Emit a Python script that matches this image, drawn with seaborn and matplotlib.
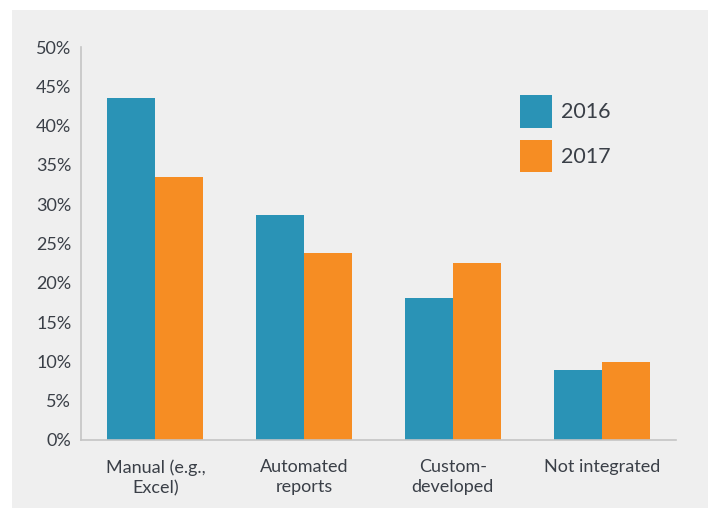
import pandas as pd
import matplotlib.pyplot as plt
from matplotlib.patches import Rectangle
import seaborn as sns

# Chart data
categories = ['Manual (e.g.,\nExcel)', 'Automated\nreports', 'Custom-\ndeveloped', 'Not integrated']
years = ['2016', '2017']
values_2016 = [43.5, 28.6, 18.1, 8.9]
values_2017 = [33.5, 23.8, 22.5, 9.9]
y_ticks = [0, 5, 10, 15, 20, 25, 30, 35, 40, 45, 50]

colors = ['#2A93B6', '#F68D23']
text_color = '#3A3F47'
panel_color = '#EFEFEF'


def main():
    df = pd.DataFrame({
        'category': categories * 2,
        'year': [years[0]] * 4 + [years[1]] * 4,
        'value': values_2016 + values_2017,
    })

    sns.set_style('white')
    plt.rcParams['font.family'] = ['Lato', 'DejaVu Sans']

    fig = plt.figure(figsize=(7.11, 5.08), dpi=100, facecolor='white')
    # light gray panel behind the chart
    fig.patches.append(Rectangle((12 / 711, 0), 696 / 711, 498 / 508,
                                 transform=fig.transFigure, facecolor=panel_color,
                                 edgecolor='none', zorder=-10))
    ax = fig.add_axes([81 / 711, 68 / 508, 595 / 711, 393 / 508])
    ax.set_facecolor(panel_color)

    sns.barplot(data=df, x='category', y='value', hue='year', palette=colors,
                width=0.645, gap=0, saturation=1, linewidth=0, ax=ax)

    ax.set_xlim(-0.5, 3.5)
    ax.set_ylim(0, 50)
    ax.set_yticks(y_ticks)
    ax.set_yticklabels([f'{t}%' for t in y_ticks], fontsize=13, color=text_color)
    ax.tick_params(axis='both', length=0)
    ax.tick_params(axis='y', pad=7)
    ax.tick_params(axis='x', pad=14)
    for lbl in ax.get_xticklabels():
        lbl.set_fontsize(13)
        lbl.set_color(text_color)
        lbl.set_linespacing(1.3)
    ax.set_xlabel('')
    ax.set_ylabel('')

    sns.despine(ax=ax)
    for side in ['left', 'bottom']:
        ax.spines[side].set_color('#C4C4C4')
        ax.spines[side].set_linewidth(1.2)

    handles, labels = ax.get_legend_handles_labels()
    ax.legend(handles, labels, loc='upper left', bbox_to_anchor=(0.738, 0.877),
              frameon=False, fontsize=15.5, handlelength=1.49, handleheight=1.95,
              handletextpad=0.4, labelspacing=0.55, borderpad=0, borderaxespad=0,
              labelcolor=text_color)

    fig.savefig('out.png', dpi=100, facecolor='white')


if __name__ == '__main__':
    main()
